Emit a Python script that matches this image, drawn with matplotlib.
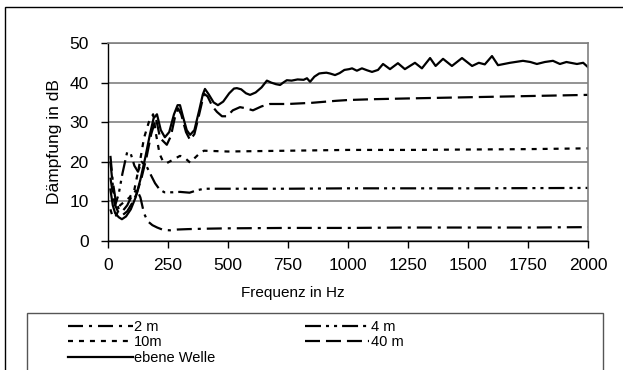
import matplotlib
matplotlib.use("Agg")
import matplotlib.pyplot as plt
from matplotlib.patches import Rectangle

plt.rcParams['font.family'] = ['Liberation Sans', 'DejaVu Sans']
plt.rcParams['lines.scale_dashes'] = False

# ---- data ----
f_ebene = [10, 20, 30, 45, 58, 75, 95, 115, 135, 155, 175, 190, 204, 220, 237, 255, 275, 290, 300, 312,
           328, 342, 360, 380, 395, 404, 420, 440, 458, 480, 505, 525, 537, 555, 575, 592, 615, 640, 662,
           680, 700, 717, 730, 745, 765, 790, 815, 829, 842, 860, 880, 892, 910, 925, 946, 965, 985, 1005,
           1017, 1037, 1058, 1080, 1100, 1125, 1146, 1175, 1208, 1237, 1279, 1308, 1342, 1365, 1396, 1433,
           1475, 1517, 1545, 1570, 1600, 1625, 1675, 1729, 1760, 1787, 1820, 1854, 1883, 1910, 1954, 1980, 2000]
v_ebene = [13, 9, 7, 6, 5.5, 6.2, 8, 11, 15.5, 21, 27, 31, 32, 28, 26.2, 27.5, 32, 34.3, 34.3, 31.5,
           28, 26.8, 28, 33, 37, 38.4, 37, 35, 34.3, 35.2, 37.3, 38.5, 38.6, 38.3, 37.3, 36.9, 37.5, 38.8, 40.5,
           40, 39.6, 39.4, 40, 40.6, 40.5, 40.8, 40.7, 41.1, 40.2, 41.5, 42.3, 42.4, 42.5, 42.3, 41.9, 42.4, 43.2, 43.4,
           43.6, 43, 43.6, 43.1, 42.7, 43.2, 44.7, 43.4, 44.9, 43.4, 45.0, 43.6, 46.2, 44.2, 46.0, 44.2,
           46.2, 44.2, 45.0, 44.6, 46.7, 44.4, 45.0, 45.5, 45.2, 44.7, 45.2, 45.5, 44.7, 45.2, 44.7, 45.0, 43.9]

f_2m = [10, 20, 30, 45, 60, 80, 100, 120, 135, 150, 165, 185, 205, 230, 258, 290, 333, 400, 500, 750,
        1000, 1250, 1500, 1750, 2000]
v_2m = [21.5, 15, 11, 8, 7.5, 9, 11.5, 13, 11, 7, 5, 4, 3.4, 2.8, 2.7, 2.9, 3.0, 3.1, 3.2, 3.3,
        3.3, 3.4, 3.4, 3.4, 3.5]

f_4m = [10, 20, 30, 45, 60, 80, 95, 110, 125, 140, 162, 180, 196, 215, 235, 270, 300, 340, 370, 400,
        500, 750, 1000, 1500, 2000]
v_4m = [20, 14, 9, 12, 17, 22.5, 22, 19, 17.5, 20, 18.7, 16.5, 14.6, 13, 12.3, 12.3, 12.4, 12.2, 12.8, 13.2,
        13.2, 13.2, 13.3, 13.3, 13.4]

f_10m = [10, 20, 35, 50, 70, 90, 110, 130, 150, 170, 188, 200, 215, 230, 246, 270, 300, 320, 342, 362,
         383, 400, 500, 750, 1000, 1250, 1500, 1750, 2000]
v_10m = [8, 6, 6.5, 9, 10, 11, 13, 19, 26, 30, 32, 27, 22, 20, 19.7, 20.5, 21.5, 21, 19.8, 21,
         22.2, 22.8, 22.6, 22.8, 23, 23, 23.1, 23.2, 23.4]

f_40m = [10, 20, 30, 45, 60, 80, 100, 120, 140, 160, 180, 200, 217, 245, 262, 278, 292, 305, 325, 342,
         360, 380, 400, 415, 435, 454, 475, 496, 520, 550, 575, 604, 640, 675, 750, 850, 950, 1000,
         1100, 1250, 1500, 1750, 2000]
v_40m = [16, 12, 9, 7, 6.5, 7.5, 9.5, 12, 16, 21, 27, 31, 26, 24.3, 26.5, 31, 33.5, 32, 27.5, 25.5,
         27, 32, 37.2, 36.5, 34, 32.6, 31.5, 31.5, 33, 33.8, 33.5, 33, 34, 34.6, 34.6, 34.9, 35.4, 35.6,
         35.8, 36, 36.3, 36.6, 36.9]

labels = ['2 m', '4 m', '10m', '40 m', 'ebene Welle']
x_ticks = [0, 250, 500, 750, 1000, 1250, 1500, 1750, 2000]
y_ticks = [0, 10, 20, 30, 40, 50]

# ---- figure ----
W, H = 623, 370
fig = plt.figure(figsize=(W / 100, H / 100), dpi=100)
ax = fig.add_axes([108 / W, 1 - 241 / H, 480 / W, 198 / H])

lw = 1.6
styles = {
    '2 m': (0, (10.8, 4.3, 2.2, 4.3)),
    '4 m': (0, (11.5, 3.6, 2.2, 3.6, 2.2, 3.6)),
    '10m': (0, (3.6, 4.3)),
    '40 m': (0, (10.8, 4.3)),
    'ebene Welle': '-',
}
data = {
    '2 m': (f_2m, v_2m),
    '4 m': (f_4m, v_4m),
    '10m': (f_10m, v_10m),
    '40 m': (f_40m, v_40m),
    'ebene Welle': (f_ebene, v_ebene),
}
handles = {}
for lab in labels:
    fx, vy = data[lab]
    ln, = ax.plot(fx, vy, color='black', lw=lw, linestyle=styles[lab], label=lab)
    handles[lab] = ln

ax.set_xlim(0, 2000)
ax.set_ylim(0, 50)
ax.set_xticks(x_ticks)
ax.set_yticks(y_ticks)
ax.yaxis.grid(True, color='#808080', lw=1.2)
ax.set_axisbelow(True)
for s in ['top', 'right']:
    ax.spines[s].set_color('#808080')
    ax.spines[s].set_linewidth(1.2)
for s in ['left', 'bottom']:
    ax.spines[s].set_color('black')
    ax.spines[s].set_linewidth(1.0)
ax.tick_params(axis='both', direction='out', length=5, width=1, labelsize=12.5, colors='black')
ax.tick_params(axis='x', pad=7)
ax.tick_params(axis='y', pad=9)

ax.set_xlabel('Frequenz in Hz', fontsize=11)
ax.xaxis.set_label_coords((293 - 108) / 480, (241 - 286) / 198)
ax.set_ylabel('Dämpfung in dB', fontsize=12.5)
ax.yaxis.set_label_coords((62 - 108) / 480, 0.5)

# outer frame and legend frame
fig.patches.append(Rectangle((5 / W, -0.1), 2, 1 - 7 / H + 0.1, transform=fig.transFigure,
                             fill=False, edgecolor='black', lw=1.0))
fig.patches.append(Rectangle((27 / W, -0.1), (603 - 27) / W, 1 - 313 / H + 0.1, transform=fig.transFigure,
                             fill=False, edgecolor='#555555', lw=1.0))

order = ['2 m', '10m', 'ebene Welle', '4 m', '40 m']
fig.legend([handles[k] for k in order], order, ncol=2, loc='upper left',
           bbox_to_anchor=(68 / W, 1 - 320 / H), frameon=False, fontsize=10.5,
           handlelength=4.45, handletextpad=0.1, columnspacing=6.1, labelspacing=0.1,
           borderpad=0, borderaxespad=0)

fig.savefig('out.png', dpi=100)
